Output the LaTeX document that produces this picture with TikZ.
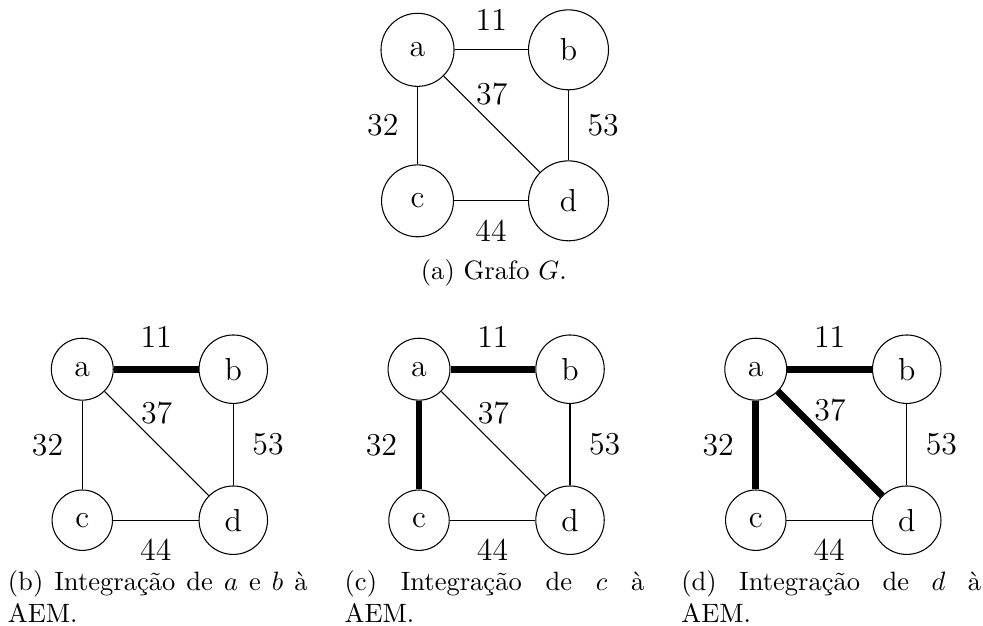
\documentclass[tikz,border=0pt]{standalone}
\usepackage{fontspec}
\usepackage{tikz}
\usetikzlibrary{positioning}
\hyphenpenalty=10000
\tolerance=10000
\tikzset{
  vertice/.style={
    circle, draw, thin, font=\large,
    inner sep=#1
  },
  vertice/.default=5.4pt,
  aresta/.style={draw, thin},
  arestaAEM/.style={draw, line width=2.6pt},
  peso/.style={font=\large, inner sep=7pt},
  legenda/.style={
    text width=3.97cm, align=justify,
    inner sep=0pt, anchor=north
  },
}
\begin{document}
\begin{tikzpicture}
  \useasboundingbox (0,0) rectangle (13.02,-8.28);
  % (a) grafo G
  \node[vertice=6.9pt] (a1) at (5.53,-0.66) {a};
  \node[vertice=6.9pt] (b1) at (7.53,-0.66) {b};
  \node[vertice=6.9pt] (c1) at (5.53,-2.66) {c};
  \node[vertice=6.9pt] (d1) at (7.53,-2.66) {d};
  \draw[aresta] (a1) -- node[peso, above] {11} (b1);
  \draw[aresta] (a1) -- node[peso, left] {32} (c1);
  \draw[aresta] (a1) -- node[peso, above] {37} (d1);
  \draw[aresta] (b1) -- node[peso, right] {53} (d1);
  \draw[aresta] (c1) -- node[peso, below] {44} (d1);
  \node[anchor=base] (leg1) at (6.54,-3.70) {(a) Grafo $G$.};

  % (b) a e b
  \node[vertice] (a2) at (1.09,-4.89) {a};
  \node[vertice] (b2) at (3.09,-4.89) {b};
  \node[vertice] (c2) at (1.09,-6.89) {c};
  \node[vertice] (d2) at (3.09,-6.89) {d};
  \draw[arestaAEM] (a2) -- node[peso, above] {11} (b2);
  \draw[aresta] (a2) -- node[peso, left] {32} (c2);
  \draw[aresta] (a2) -- node[peso, above] {37} (d2);
  \draw[aresta] (b2) -- node[peso, right] {53} (d2);
  \draw[aresta] (c2) -- node[peso, below] {44} (d2);
  \node[legenda] (leg2) at (2.09,-7.55) {(b) Integração de $a$ e $b$ à AEM.};

  % (c) c
  \node[vertice] (a3) at (5.55,-4.89) {a};
  \node[vertice] (b3) at (7.55,-4.89) {b};
  \node[vertice] (c3) at (5.55,-6.89) {c};
  \node[vertice] (d3) at (7.55,-6.89) {d};
  \draw[arestaAEM] (a3) -- node[peso, above] {11} (b3);
  \draw[arestaAEM] (a3) -- node[peso, left] {32} (c3);
  \draw[aresta] (a3) -- node[peso, above] {37} (d3);
  \draw[aresta] (b3) -- node[peso, right] {53} (d3);
  \draw[aresta] (c3) -- node[peso, below] {44} (d3);
  \node[legenda] (leg3) at (6.55,-7.55) {(c) Integração de $c$ à AEM.};

  % (d) d
  \node[vertice] (a4) at (10.01,-4.89) {a};
  \node[vertice] (b4) at (12.01,-4.89) {b};
  \node[vertice] (c4) at (10.01,-6.89) {c};
  \node[vertice] (d4) at (12.01,-6.89) {d};
  \draw[arestaAEM] (a4) -- node[peso, above] {11} (b4);
  \draw[arestaAEM] (a4) -- node[peso, left] {32} (c4);
  \draw[arestaAEM] (a4) -- node[peso, above] {37} (d4);
  \draw[aresta] (b4) -- node[peso, right] {53} (d4);
  \draw[aresta] (c4) -- node[peso, below] {44} (d4);
  \node[legenda] (leg4) at (11.01,-7.55) {(d) Integração de $d$ à AEM.};
\end{tikzpicture}
\end{document}
